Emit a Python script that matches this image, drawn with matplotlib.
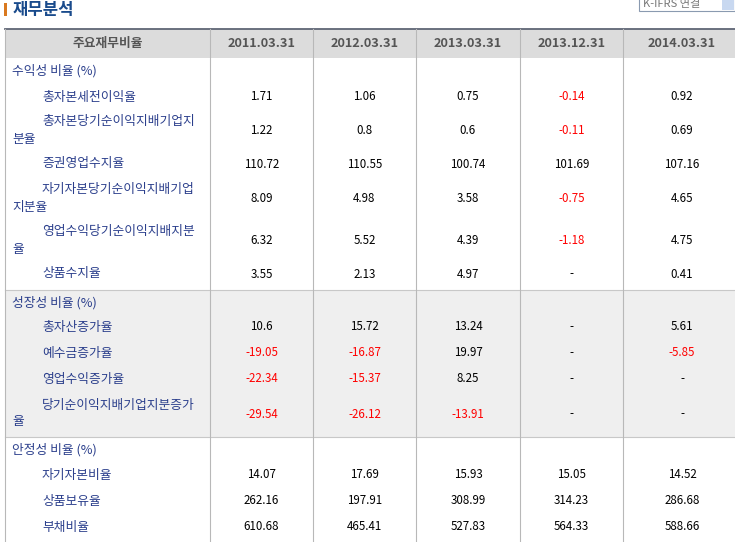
import matplotlib
matplotlib.use("Agg")
import matplotlib.pyplot as plt
from matplotlib.patches import Rectangle

plt.rcParams['font.family'] = ['Noto Sans CJK KR', 'DejaVu Sans']

dates = ["2011.03.31", "2012.03.31", "2013.03.31", "2013.12.31", "2014.03.31"]
sections = ["수익성 비율 (%)", "성장성 비율 (%)", "안정성 비율 (%)"]
labels1 = [["총자본세전이익율"], ["총자본당기순이익지배기업지", "분율"], ["증권영업수지율"],
           ["자기자본당기순이익지배기업", "지분율"], ["영업수익당기순이익지배지분", "율"], ["상품수지율"]]
values1 = [["1.71", "1.06", "0.75", "-0.14", "0.92"],
           ["1.22", "0.8", "0.6", "-0.11", "0.69"],
           ["110.72", "110.55", "100.74", "101.69", "107.16"],
           ["8.09", "4.98", "3.58", "-0.75", "4.65"],
           ["6.32", "5.52", "4.39", "-1.18", "4.75"],
           ["3.55", "2.13", "4.97", "-", "0.41"]]
labels2 = [["총자산증가율"], ["예수금증가율"], ["영업수익증가율"], ["당기순이익지배기업지분증가", "율"]]
values2 = [["10.6", "15.72", "13.24", "-", "5.61"],
           ["-19.05", "-16.87", "19.97", "-", "-5.85"],
           ["-22.34", "-15.37", "8.25", "-", "-"],
           ["-29.54", "-26.12", "-13.91", "-", "-"]]
labels3 = [["자기자본비율"], ["상품보유율"], ["부채비율"]]
values3 = [["14.07", "17.69", "15.93", "15.05", "14.52"],
           ["262.16", "197.91", "308.99", "314.23", "286.68"],
           ["610.68", "465.41", "527.83", "564.33", "588.66"]]

# layout (pixels)
col_edges = [5, 210, 313, 416, 520, 623, 741]
sec_tops = [58, 290, 437]
sec_bottoms = [290, 437, 542]
row_ys = [[97, 131, 164, 199, 241, 274], [327, 353, 379, 414], [475, 501, 527]]
head_y = 71 - 58  # offset of section title

fig = plt.figure(figsize=(7.35, 5.42), dpi=100)
ax = fig.add_axes([0, 0, 1, 1])
ax.set_xlim(0, 735); ax.set_ylim(542, 0); ax.axis('off')

LBL = '#2b3f8c'
FS = 8.3
FSL = 9.2
# title
ax.add_patch(Rectangle((4, 3), 3, 13, color='#d9791f', lw=0))
ax.text(13, 9.5, "재무분석", fontsize=12, fontweight='bold', color='#1a4b8c', va='center')
# dropdown
ax.add_patch(Rectangle((639, -2), 96, 13, fill=False, ec='#8a9ab0', lw=0.8))
ax.add_patch(Rectangle((722, -1), 12, 11, color='#c8d8f0', lw=0))
ax.text(643, 4, "K-IFRS 연결", fontsize=8, color='#777777', va='center')

# header
ax.add_patch(Rectangle((5, 29), 730, 29, color='#dcdcdc', lw=0))
ax.plot([5, 735], [29, 29], color='#5f6675', lw=1.3)
ax.text((col_edges[0] + col_edges[1]) / 2, 43.5, "주요재무비율", fontsize=FSL, fontweight='bold',
        color='#555555', ha='center', va='center')
for i, d in enumerate(dates):
    cx = (col_edges[i + 1] + col_edges[i + 2]) / 2
    ax.text(cx, 43.5, d, fontsize=9.2, fontweight='bold', color='#555555', ha='center', va='center')

# gray section background
ax.add_patch(Rectangle((5, sec_tops[1]), 730, sec_bottoms[1] - sec_tops[1], color='#efefef', lw=0))
for y in [290, 437]:
    ax.plot([5, 735], [y, y], color='#c8c8c8', lw=0.8)
for x in col_edges[:-1]:
    ax.plot([x, x], [29, 542], color='#b8b8b8', lw=0.8)

all_labels = [labels1, labels2, labels3]
all_values = [values1, values2, values3]
for s in range(3):
    ax.text(12, sec_tops[s] + head_y, sections[s], fontsize=FSL, color=LBL, va='center')
    for r, (lab, vals) in enumerate(zip(all_labels[s], all_values[s])):
        y = row_ys[s][r]
        if len(lab) == 1:
            ax.text(42, y, lab[0], fontsize=FSL, color=LBL, va='center')
        else:
            ax.text(42, y - 9, lab[0], fontsize=FSL, color=LBL, va='center')
            ax.text(12, y + 8, lab[1], fontsize=FSL, color=LBL, va='center')
        for i, v in enumerate(vals):
            cx = (col_edges[i + 1] + col_edges[i + 2]) / 2
            col = 'red' if v.startswith('-') and len(v) > 1 else 'black'
            ax.text(cx, y, v, fontsize=FS, color=col, ha='center', va='center')

fig.savefig("out.png", dpi=100)
